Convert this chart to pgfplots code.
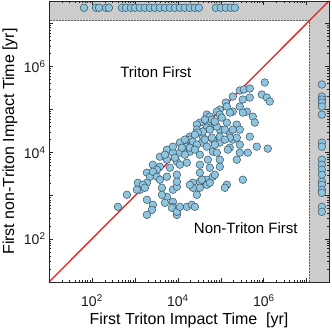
\documentclass[border=0pt]{standalone}
\usepackage{pgfplots}
\pgfplotsset{compat=1.18}
\usepackage{fontspec}
\setmainfont{Liberation Sans}
\definecolor{ptfill}{RGB}{143,196,222}
\definecolor{ptedge}{RGB}{55,80,95}
\definecolor{shadegray}{RGB}{204,204,204}
\definecolor{diag}{RGB}{228,30,30}
\begin{document}
\begin{tikzpicture}
\useasboundingbox (-49pt,-50pt) rectangle (283pt,282pt);
\begin{axis}[
  scale only axis, width=280pt, height=281pt,
  xmode=log, ymode=log,
  xmin=10, xmax=3.3e7, ymin=10, ymax=3.3e7,
  axis on top,
  axis line style={line width=0.8pt, black!85},
  tick style={black!85, line width=0.6pt},
  tick align=inside, major tick length=4pt, minor tick length=2pt,
  xtick={10,100,1e3,1e4,1e5,1e6,1e7},
  ytick={10,100,1e3,1e4,1e5,1e6,1e7},
  xticklabels={{},10\textsuperscript{2},{},10\textsuperscript{4},{},10\textsuperscript{6},{}},
  yticklabels={{},10\textsuperscript{2},{},10\textsuperscript{4},{},10\textsuperscript{6},{}},
  ticklabel style={font=\fontsize{14}{16}\selectfont, text=black!90},
  xticklabel style={yshift=-9pt},
  xlabel={First Triton Impact Time\ \ [yr]},
  ylabel={First non-Triton Impact Time [yr]},
  label style={font=\fontsize{16}{19}\selectfont},
  xlabel style={at={(axis description cs:0.5,-0.135)}, anchor=center},
  ylabel style={at={(axis description cs:-0.139,0.5)}, anchor=center},
]
\fill[shadegray] (axis cs:1.15e7,10) rectangle (axis cs:3.3e7,3.3e7);
\fill[shadegray] (axis cs:10,1.15e7) rectangle (axis cs:3.3e7,3.3e7);
\draw[densely dotted, black!60, line width=0.5pt] (axis cs:1.15e7,10) -- (axis cs:1.15e7,1.15e7) -- (axis cs:10,1.15e7);
\addplot[diag, line width=1.3pt] coordinates {(10,10) (3.3e7,3.3e7)};
\node[font=\fontsize{15}{18}\selectfont] at (axis cs:3076,7.24e5) {Triton First};
\node[font=\fontsize{15}{18}\selectfont] at (axis cs:3.81e5,180) {Non-Triton First};
\addplot[only marks, mark=*, mark size=3.8pt, mark options={fill=ptfill, draw=ptedge, line width=0.5pt}] coordinates {
(1.055e6,424600) (276700,276700) (342800,291700) (472100,307800) (190100,200500)
(325100,170900) (472100,190100) (897900,223300) (1.175e6,190100) (1.38e6,153500)
(130600,145500) (138000,117500) (276700,117500) (94840,100000) (47210,76560)
(80720,89790) (190100,89790) (402700,89790) (554600,68730) (325100,85110)
(55460,68730) (94840,76560) (161900,85110) (617600,49890) (32490,49890)
(65160,44790) (138000,49890) (235600,44790) (27670,44790) (49890,44790)
(61800,58510) (105400,65160) (27670,34280) (47210,38110) (94840,34280)
(161900,29170) (190100,20050) (19010,23560) (38110,23560) (65160,20050)
(94840,17100) (190100,34280) (276700,34280) (235600,22330) (472100,23560)
(161900,22330) (13060,17100) (19010,20050) (80720,40270) (55460,34280)
(38110,30760) (29170,29170) (94840,23560) (61800,22330) (36140,17100)
(22330,18030) (276700,15350) (11140,17100) (16190,13800) (27670,15350)
(47210,13800) (65160,10550) (80720,10000) (161900,13060) (276700,10000)
(424600,10000) (687300,13800) (1.239e6,12390) (5550,11750) (7660,10000)
(11140,10000) (19010,10550) (32490,8979) (49890,6873) (94840,6873)
(235600,6873) (3810,8072) (5550,6873) (9480,6176) (16190,5851)
(32490,5260) (145500,11750) (7660,13800) (12390,13060) (19010,13060)
(2620,5260) (55460,4479) (94840,4721) (3810,4721) (6520,4479)
(11140,5260) (1900,3428) (3250,4027) (2230,2767) (5550,2767)
(32490,3428) (47210,2356) (65160,2767) (32490,2118) (1170,2005)
(1900,2005) (1310,1380) (4250,1535) (7660,1380) (9480,1619)
(22330,2005) (22330,1535) (138000,1803) (123900,1535) (325100,2356)
(2620,3614) (3250,2767) (3810,2356) (9480,3076) (9480,2118)
(19010,1803) (47210,1803) (55460,2005) (36140,2356) (32490,1535)
(72440,3076) (1530,1803) (1110,1380) (1710,1535) (1900,807)
(5550,948) (7660,724) (651,1055) (403,555) (2620,618)
(2490,472) (1900,361) (7660,555) (16190,555) (21180,618)
(24840,555) (9480,361) (4250,1055) (4990,687) (7240,526)
(9480,425) (11140,555) (27670,1055) (42460,58510) (72440,52600)
(123900,34280) (24840,26240) (14550,20050) (42460,20050) (123900,20050)
(72440,15350) (24840,11750) (14550,8979) (8511,7656) (4990,8979)
};
\addplot[only marks, mark=*, mark size=3.8pt, mark options={fill=ptfill, draw=ptedge, line width=0.5pt}] coordinates {
(65.2,2.3e7) (124,2.3e7) (146,2.3e7) (212,2.3e7) (248,2.3e7) (499,2.3e7)
(618,2.3e7) (807,2.3e7) (1000,2.3e7) (1306,2.3e7) (1710,2.3e7) (2233,2.3e7)
(2917,2.3e7) (3811,2.3e7) (4989,2.3e7) (6516,2.3e7) (8511,2.3e7) (11140,2.3e7)
(14550,2.3e7) (19010,2.3e7) (24840,2.3e7) (30760,2.3e7) (76560,2.3e7) (100000,2.3e7)
(130600,2.3e7) (170900,2.3e7) (211800,2.3e7)
};
\addplot[only marks, mark=*, mark size=3.8pt, mark options={fill=ptfill, draw=ptedge, line width=0.5pt}] coordinates {
(2.25e7,381100) (2.25e7,200500) (2.25e7,170900) (2.25e7,145500) (2.25e7,117500)
(2.25e7,76560) (2.25e7,17100) (2.25e7,13800) (2.25e7,6873) (2.25e7,5260)
(2.25e7,4027) (2.25e7,3076) (2.25e7,2118) (2.25e7,1803) (2.25e7,1380)
(2.25e7,1175) (2.25e7,555) (2.25e7,425)
};
\end{axis}
\end{tikzpicture}
\end{document}
